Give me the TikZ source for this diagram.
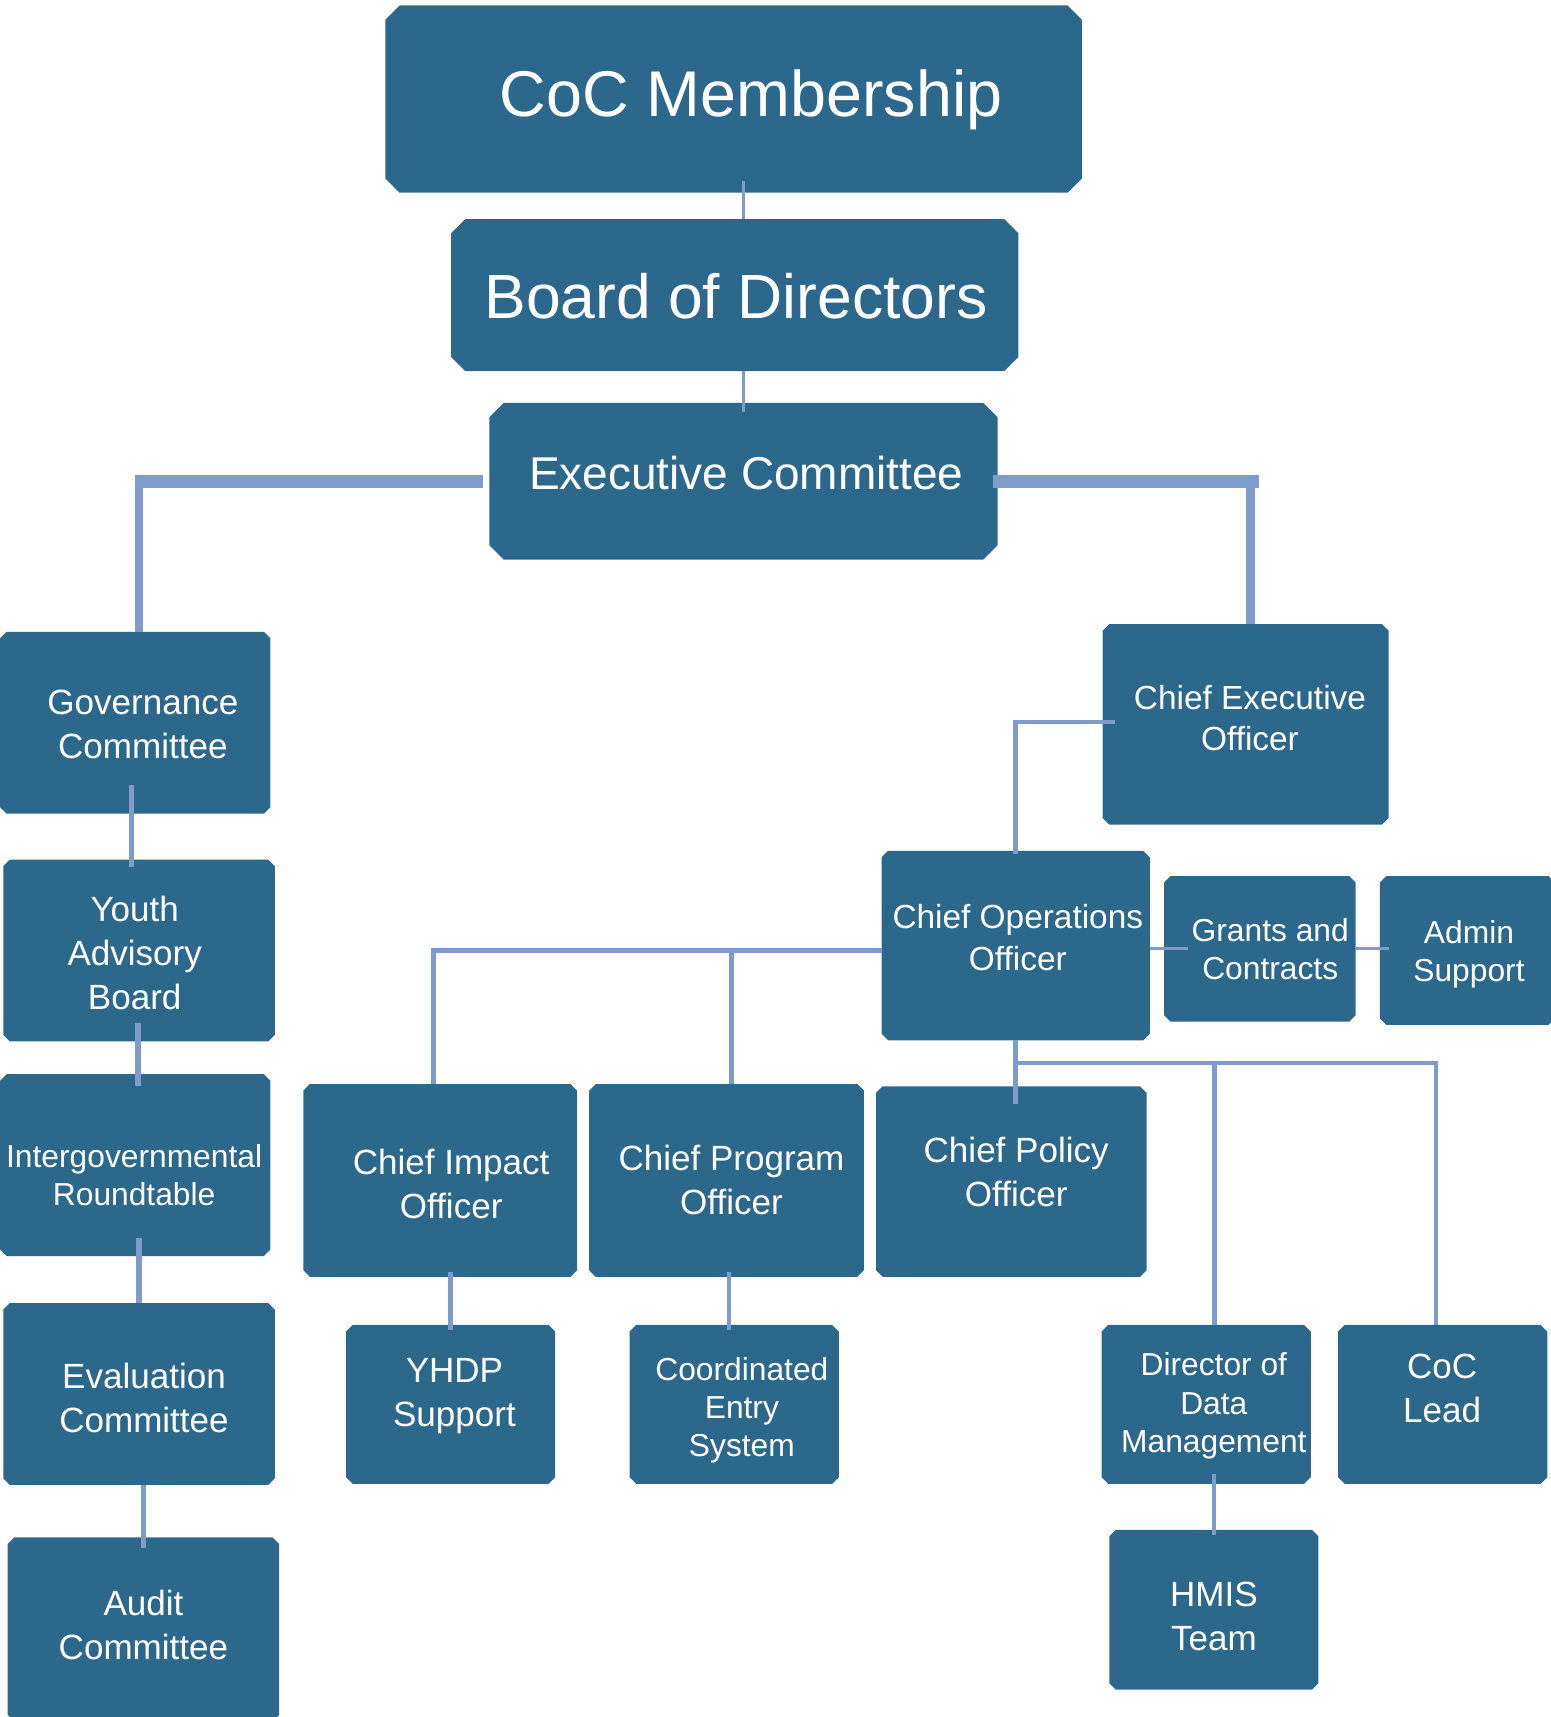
\documentclass[tikz,border=0pt]{standalone}
\usepackage{fontspec}
\setmainfont{Liberation Sans}
\definecolor{boxblue}{RGB}{43,104,140}
\definecolor{linkblue}{RGB}{127,155,204}

\begin{document}
\begin{tikzpicture}[x=1pt, y=-1pt,
  chamfer/.store in=\chamfer, chamfer=6pt,
  box/.style={rectangle, inner sep=0pt, outer sep=0pt,
    path picture={\fill [boxblue]
      ([xshift=\chamfer]path picture bounding box.north west) -- ([xshift=-\chamfer]path picture bounding box.north east)
      -- ([yshift=-\chamfer]path picture bounding box.north east) -- ([yshift=\chamfer]path picture bounding box.south east)
      -- ([xshift=-\chamfer]path picture bounding box.south east) -- ([xshift=\chamfer]path picture bounding box.south west)
      -- ([yshift=\chamfer]path picture bounding box.south west) -- ([yshift=-\chamfer]path picture bounding box.north west) -- cycle;}},
  bigbox/.style={box, chamfer=13pt},
  txt/.style={text=white, align=center, inner sep=0pt, text depth=0pt, font=\fontsize{32}{40}\selectfont},
  midtxt/.style={txt, font=\fontsize{30.5}{38}\selectfont},
  smalltxt/.style={txt, font=\fontsize{29}{35}\selectfont},
  thinlink/.style={draw=linkblue, line width=2.5pt},
  link/.style={draw=linkblue, line width=4pt},
  leftlink/.style={draw=linkblue, line width=5pt},
  armh/.style={draw=linkblue, line width=12pt},
  armv/.style={draw=linkblue, line width=7.5pt}]
    \useasboundingbox (0,0) rectangle (1416,1568);

    % boxes
    \node [bigbox, minimum width=636, minimum height=171] (mem) at (670, 90.5) {};
    \node [bigbox, minimum width=518, minimum height=139] (board) at (671, 269.5) {};
    \node [bigbox, minimum width=464, minimum height=143] (exec) at (679, 439.5) {};
    \node [box, minimum width=247, minimum height=166] (gov) at (123.5, 660) {};
    \node [box, minimum width=248, minimum height=166] (youth) at (127, 868) {};
    \node [box, minimum width=247, minimum height=166] (inter) at (123.5, 1064) {};
    \node [box, minimum width=248, minimum height=166] (eval) at (127, 1273) {};
    \node [box, minimum width=248, minimum height=168] (audit) at (131, 1488) {};
    \node [box, minimum width=261, minimum height=183] (ceo) at (1137.5, 661.5) {};
    \node [box, minimum width=245, minimum height=173] (coo) at (927.5, 863.5) {};
    \node [box, minimum width=175, minimum height=133] (grants) at (1150.5, 866.5) {};
    \node [box, minimum width=160, minimum height=136] (admin) at (1340, 868) {};
    \node [box, minimum width=250, minimum height=176] (impact) at (402, 1078) {};
    \node [box, minimum width=251, minimum height=176] (program) at (663.5, 1078) {};
    \node [box, minimum width=247, minimum height=174] (policy) at (923.5, 1079) {};
    \node [box, minimum width=191, minimum height=145] (yhdp) at (411.5, 1282.5) {};
    \node [box, minimum width=191, minimum height=145] (ces) at (670.5, 1282.5) {};
    \node [box, minimum width=191, minimum height=145] (director) at (1101.5, 1282.5) {};
    \node [box, minimum width=191, minimum height=145] (lead) at (1317.5, 1282.5) {};
    \node [box, minimum width=191, minimum height=146] (hmis) at (1108.5, 1470) {};

    % top of the chart
    \draw [thinlink, shorten <=-11pt] (mem.south -| exec.north) -- (board.north -| exec.north);
    \draw [thinlink, shorten >=-8pt] (board.south -| exec.north) -- (exec.north);
    \draw [armh] ([xshift=-6]exec.west) -- (exec.west -| gov.north);
    \draw [armv] ([xshift=3.5]exec.west -| gov.north) -- ([xshift=3.5]gov.north);
    \draw [armh] ([xshift=-4]exec.east) -- ([xshift=12.5]exec.east -| ceo.north);
    \draw [armv] ([xshift=4.5]exec.east -| ceo.north) -- ([xshift=4.5]ceo.north);

    % left column
    \draw [leftlink, shorten <=-26pt, shorten >=-7pt] ([xshift=-3.5]gov.south) -- ([xshift=-3.5]gov.south |- youth.north);
    \draw [leftlink, shorten <=-17pt, shorten >=-11pt] ([xshift=-1]youth.south) -- ([xshift=-1]youth.south |- inter.north);
    \draw [leftlink, shorten <=-16pt] (eval.north |- inter.south) -- (eval.north);
    \draw [leftlink, shorten >=-10pt] (audit.north |- eval.south) -- (audit.north);

    % operations branch
    \draw [link, shorten <=-11pt, shorten >=-3pt] ([yshift=2]ceo.west) -| (coo.north);
    \draw [link] ([yshift=-4.5]coo.west) -| ([xshift=-6]impact.north);
    \draw [link] ([xshift=4.5, yshift=-4.5]coo.west -| program.north) -- ([xshift=4.5]program.north);
    \draw [thinlink, shorten >=-22pt] (coo.east |- grants.west) -- (grants.west);
    \draw [thinlink, shorten >=-8pt] (grants.east) -- (grants.east -| admin.west);
    \draw [link, shorten >=-16pt] (coo.south) -- (coo.south |- policy.north);
    \coordinate (split) at ([yshift=-21]coo.south);
    \draw [link] (split) -| ([xshift=7.5]director.north);
    \draw [link] (split) -| ([xshift=-6]lead.north);
    \draw [link, shorten <=-4pt, shorten >=-5pt] (yhdp.north |- impact.south) -- (yhdp.north);
    \draw [link, shorten <=-4pt, shorten >=-5pt] ([xshift=2.5]program.south) -- ([xshift=2.5]program.south |- ces.north);
    \draw [link, shorten <=-9pt, shorten >=-5pt] (hmis.north |- director.south) -- (hmis.north);

    % labels
    \node [txt, font=\fontsize{59}{70}\selectfont] (mem-t) at (686, 85) {CoC Membership};
    \node [txt, font=\fontsize{57}{68}\selectfont] (board-t) at (672, 270) {Board of Directors};
    \node [txt, font=\fontsize{42}{50}\selectfont] (exec-t) at (681.5, 432) {Executive Committee};
    \node [txt] (gov-t) at (130.5, 661.5) {Governance\\Committee};
    \node [txt] (youth-t) at (123, 870) {Youth\\Advisory\\Board};
    \node [smalltxt] (inter-t) at (122.5, 1073) {Intergovernmental\\Roundtable};
    \node [txt] (eval-t) at (131.5, 1276.5) {Evaluation\\Committee};
    \node [txt] (audit-t) at (131, 1483.5) {Audit\\Committee};
    \node [midtxt] (ceo-t) at (1141.5, 655.5) {Chief Executive\\Officer};
    \node [midtxt] (coo-t) at (929.5, 856) {Chief Operations\\Officer};
    \node [smalltxt] (grants-t) at (1160, 866.5) {Grants and\\Contracts};
    \node [smalltxt] (admin-t) at (1341.5, 868.5) {Admin\\Support};
    \node [txt] (impact-t) at (412, 1081) {Chief Impact\\Officer};
    \node [txt] (program-t) at (668, 1077.5) {Chief Program\\Officer};
    \node [txt] (policy-t) at (928, 1070) {Chief Policy\\Officer};
    \node [txt] (yhdp-t) at (415, 1271.5) {YHDP\\Support};
    \node [smalltxt] (ces-t) at (677.5, 1285) {Coordinated\\Entry\\System};
    \node [smalltxt] (director-t) at (1108.5, 1281) {Director of\\Data\\Management};
    \node [txt] (lead-t) at (1317, 1268) {CoC\\Lead};
    \node [txt] (hmis-t) at (1108.5, 1476) {HMIS\\Team};
\end{tikzpicture}
\end{document}
